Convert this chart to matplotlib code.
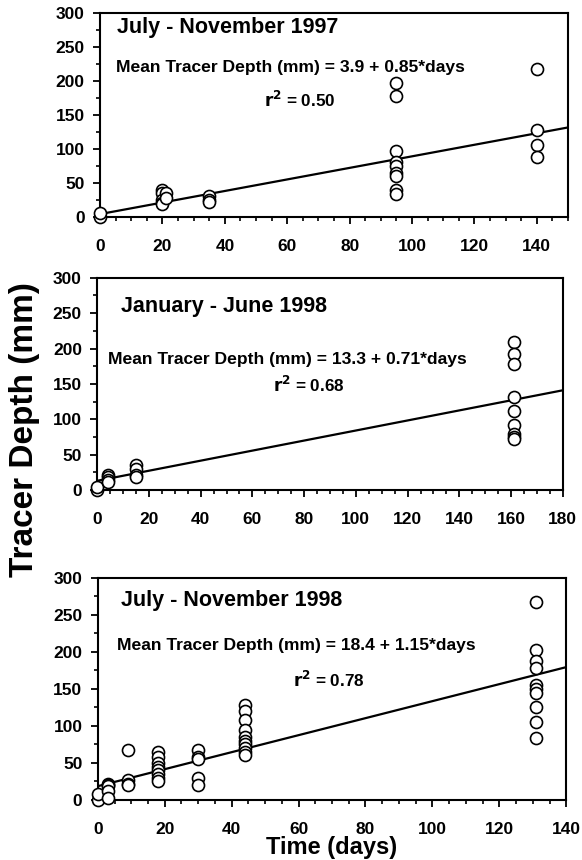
import numpy as np
import matplotlib.pyplot as plt
from matplotlib.ticker import MultipleLocator

plt.rcParams['font.family'] = ['Liberation Sans', 'DejaVu Sans']
plt.rcParams['font.weight'] = 'bold'

# July - November 1997
days_97 = [0, 0, 20, 20, 20, 20, 20, 21, 21, 35, 35, 35,
           95, 95, 95, 95, 95, 95, 95, 95, 95, 140, 140, 140, 140]
depth_97 = [0, 5, 40, 35, 25, 20, 18, 35, 28, 30, 25, 22,
            197, 177, 97, 80, 75, 65, 60, 40, 33, 217, 128, 105, 88]

# January - June 1998
days_98a = [0, 0, 4, 4, 4, 4, 15, 15, 15, 15,
            161, 161, 161, 161, 161, 161, 161, 161, 161]
depth_98a = [0, 5, 22, 18, 15, 12, 35, 30, 22, 18,
             210, 192, 178, 132, 112, 92, 80, 75, 72]

# July - November 1998
days_98b = [0, 0, 3, 3, 3, 3, 3, 9, 9, 9, 9,
            18, 18, 18, 18, 18, 18, 18, 18, 30, 30, 30, 30, 30,
            44, 44, 44, 44, 44, 44, 44, 44, 44, 44,
            131, 131, 131, 131, 131, 131, 131, 131, 131, 131]
depth_98b = [0, 8, 22, 20, 18, 12, 3, 68, 27, 22, 20,
             65, 58, 50, 45, 40, 35, 30, 25, 68, 58, 55, 30, 20,
             128, 120, 108, 95, 85, 80, 75, 70, 65, 60,
             267, 202, 188, 178, 155, 150, 145, 125, 105, 83]

panels = [
    dict(x=days_97, y=depth_97, a=3.9, b=0.85, xmax=150,
         title='July - November 1997',
         eq='Mean Tracer Depth (mm) = 3.9 + 0.85*days', r2='0.50',
         rect=[0.172, 0.748, 0.804, 0.237],
         tpos=(5.4, 278), epos=(5.0, 219), rpos=(64, 172)),
    dict(x=days_98a, y=depth_98a, a=13.3, b=0.71, xmax=180,
         title='January - June 1998',
         eq='Mean Tracer Depth (mm) = 13.3 + 0.71*days', r2='0.68',
         rect=[0.167, 0.430, 0.800, 0.247],
         tpos=(9.3, 260), epos=(4.2, 184), rpos=(82, 148)),
    dict(x=days_98b, y=depth_98b, a=18.4, b=1.15, xmax=140,
         title='July - November 1998',
         eq='Mean Tracer Depth (mm) = 18.4 + 1.15*days', r2='0.78',
         rect=[0.168, 0.070, 0.805, 0.258],
         tpos=(6.9, 270), epos=(5.7, 208), rpos=(69, 162)),
]

fig = plt.figure(figsize=(5.82, 8.6), dpi=100)

for p in panels:
    ax = fig.add_axes(p['rect'])
    ax.scatter(p['x'], p['y'], s=75, facecolors='white', edgecolors='black',
               linewidths=1.2, zorder=3, clip_on=False)
    xx = np.array([0, p['xmax']])
    ax.plot(xx, p['a'] + p['b'] * xx, color='black', lw=1.6, zorder=2)
    ax.set_xlim(0, p['xmax'])
    ax.set_ylim(0, 300)
    ax.xaxis.set_major_locator(MultipleLocator(20))
    ax.xaxis.set_minor_locator(MultipleLocator(5))
    ax.yaxis.set_major_locator(MultipleLocator(50))
    ax.yaxis.set_minor_locator(MultipleLocator(25))
    ax.tick_params(axis='both', which='major', labelsize=12.5, length=5, width=1.3,
                   direction='out', color='black')
    ax.tick_params(axis='both', which='minor', length=3, width=1.2, direction='out')
    ax.tick_params(axis='x', which='major', pad=11)
    ax.tick_params(axis='y', which='major', pad=6)
    for lab in ax.get_xticklabels() + ax.get_yticklabels():
        lab.set_fontweight('bold')
    for s in ax.spines.values():
        s.set_linewidth(1.5)
    ax.text(p['tpos'][0], p['tpos'][1], p['title'], fontsize=15.5,
            fontweight='bold', va='center', ha='left')
    ax.text(p['epos'][0], p['epos'][1], p['eq'], fontsize=12.6,
            fontweight='bold', va='center', ha='left')
    ax.text(p['rpos'][0], p['rpos'][1], '$\\mathbf{r^2}$ = ' + p['r2'], fontsize=12.3,
            fontweight='bold', va='center', ha='center')

fig.text(0.042, 0.5, 'Tracer Depth (mm)', rotation=90, fontsize=24,
         fontweight='bold', va='center', ha='center')
fig.text(0.57, 0.015, 'Time (days)', fontsize=17, fontweight='bold',
         va='center', ha='center')

fig.savefig('out.png', dpi=100)
